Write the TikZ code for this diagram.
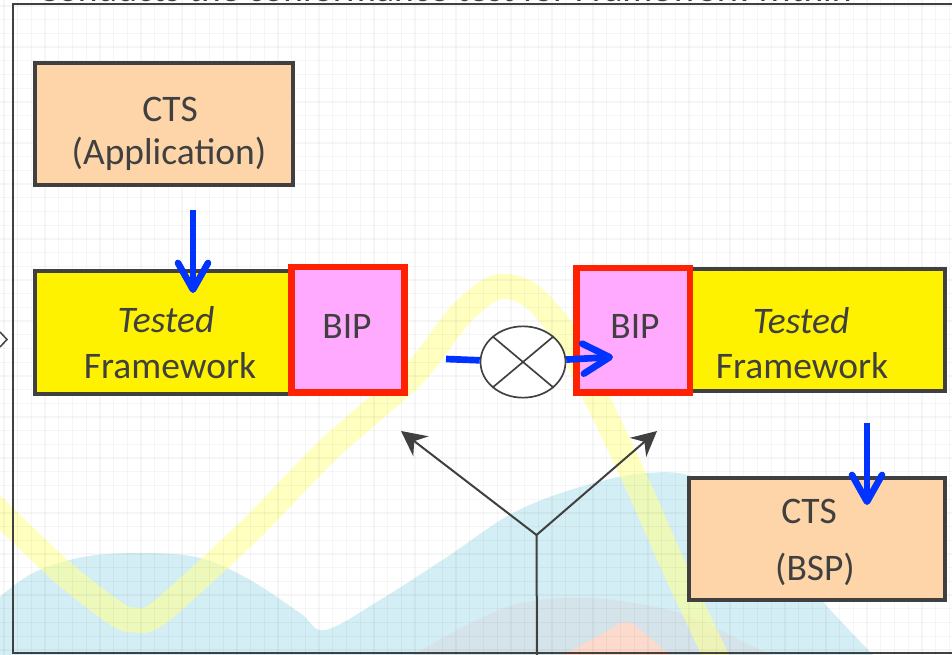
\documentclass[tikz,border=0pt]{standalone}
\usepackage{fontspec}
\setmainfont{Carlito}
\usepackage{tikz}
\usetikzlibrary{arrows.meta}
\usetikzlibrary{shapes.geometric}

\definecolor{peach}{RGB}{253,213,168}
\definecolor{bipfill}{RGB}{255,170,255}
\definecolor{bipred}{RGB}{255,34,0}
\definecolor{inkgray}{RGB}{64,64,64}
\definecolor{flowblue}{RGB}{0,51,255}
\definecolor{hillblue}{RGB}{211,238,244}
\definecolor{hillgrey}{RGB}{213,228,234}
\definecolor{hillpink}{RGB}{252,218,206}
\definecolor{bandyellow}{RGB}{255,255,150}

\tikzset{
  ctsbox/.style={draw=inkgray, line width=1.2mm, fill=peach, inner sep=0pt},
  fwbox/.style={draw=inkgray, line width=1.2mm, fill=yellow, inner sep=0pt},
  bipbox/.style={draw=bipred, line width=1.9mm, fill=bipfill, inner sep=0pt},
  lbl/.style={text=inkgray, font=\fontsize{32}{38}\selectfont, anchor=base, inner sep=0pt},
  flow/.style={draw=flowblue, line width=2mm},
  flowtip/.style={flow, -{Straight Barb[length=8mm, width=9mm, line cap=round, line join=round]}},
  forkline/.style={draw=inkgray, line width=0.6mm},
  fork/.style={forkline, -{Stealth[length=7.5mm, width=7.5mm, inset=2.5mm]}},
  gridline/.style={draw=black, opacity=0.035, line width=0.4mm}
}

\begin{document}
\begin{tikzpicture}[x=0.3mm, y=-0.3mm]
\useasboundingbox (0,0) rectangle (952,655);
\clip (0,0) rectangle (952,655);
\fill[white] (0,0) rectangle (952,655);

% background hills and band
\fill[hillblue] (0,655) -- plot[smooth, tension=0.6] coordinates {(0,597) (33,573) (83,557) (143,553) (200,558) (250,580) (300,613) (325,630) (380,600) (447,557) (513,513) (580,487) (647,473) (700,480) (760,530) (823,602) (873,655)} -- cycle;
\fill[hillgrey] plot[smooth] coordinates {(413,655) (463,627) (513,605) (563,598) (613,600) (680,613) (740,640) (770,655)} -- cycle;
\fill[hillpink] plot[smooth] coordinates {(563,655) (600,635) (627,622) (650,638) (670,655)} -- cycle;
\draw[bandyellow, opacity=0.6, line width=7.5mm] plot[smooth, tension=0.5] coordinates {(-10,503) (60,570) (115,613) (135,620) (160,612) (250,530) (330,448) (413,375) (460,315) (497,287) (530,295) (565,335) (600,405) (640,490) (673,565) (720,665)};

\foreach \gx in {4,17.7,...,952}
	\draw[gridline] (\gx,0) -- (\gx,655);
\foreach \gy in {6,19.7,...,655}
	\draw[gridline] (0,\gy) -- (952,\gy);

\node[lbl, anchor=base west] (heading) at (38,2) {Conducts the conformance test for Framework within};
\draw[forkline] (960,4) -- (12.5,4) -- (12.5,653) -- (960,653);
\draw[inkgray, line width=0.45mm] (0,332) -- (7,339.5) -- (0,347);

% boxes
\node[ctsbox, minimum width=77.4mm, minimum height=36.45mm] (app) at (164,124.2) {};
\node[fwbox, minimum width=78mm, minimum height=36.9mm] (lfw) at (165,332.5) {};
\node[bipbox, minimum width=33.9mm, minimum height=37.65mm] (lbip) at (348,329.8) {};
\node[fwbox, minimum width=79.4mm, minimum height=36.8mm] (rfw) at (812.3,330) {};
\node[bipbox, minimum width=34mm, minimum height=37.4mm] (rbip) at (633,330.3) {};
\node[ctsbox, minimum width=76.8mm, minimum height=36.5mm] (bsp) at (816.7,538.8) {};

\node[lbl] (apptop) at (170,122) {CTS};
\node[lbl] (appbot) at (169,165) {(Application)};
\node[lbl] (lfwtop) at (166,333) {\itshape Tested};
\node[lbl] (lfwbot) at (170,378) {Framework};
\node[lbl] (lbiptxt) at (347,339) {BIP};
\node[lbl] (rbiptxt) at (635,339) {BIP};
\node[lbl] (rfwtop) at (801,334) {\itshape Tested};
\node[lbl] (rfwbot) at (802,379) {Framework};
\node[lbl] (bsptop) at (809,523) {CTS};
\node[lbl] (bspbot) at (815,580) {(BSP)};

% mixer and flows
\node[draw=inkgray, line width=0.5mm, fill=white, ellipse, minimum width=25.5mm, minimum height=21.4mm, inner sep=0pt] (mix) at (523,362) {};
\draw[inkgray, line width=0.5mm] (mix.40) -- (mix.220);
\draw[inkgray, line width=0.5mm] (mix.140) -- (mix.320);

\coordinate (flowin) at (446,359);
\coordinate (flowout) at (613,357);
\draw[flow] (flowin) -- (mix);
\draw[flowtip] (mix) -- (flowout);

\coordinate (appout) at (193,210);
\coordinate (fwin) at (193,293);
\draw[flowtip] (appout) -- (fwin);
\coordinate (fwout) at (867,423);
\coordinate (bspin) at (867,505);
\draw[flowtip] (fwout) -- (bspin);

\coordinate (forkbase) at (537,660);
\coordinate (forkmid) at (536.5,535);
\coordinate (forkl) at (401,431);
\coordinate (forkr) at (657,431);
\draw[forkline] (forkbase) -- (forkmid);
\draw[fork] (forkmid) -- (forkl);
\draw[fork] (forkmid) -- (forkr);
\end{tikzpicture}
\end{document}
